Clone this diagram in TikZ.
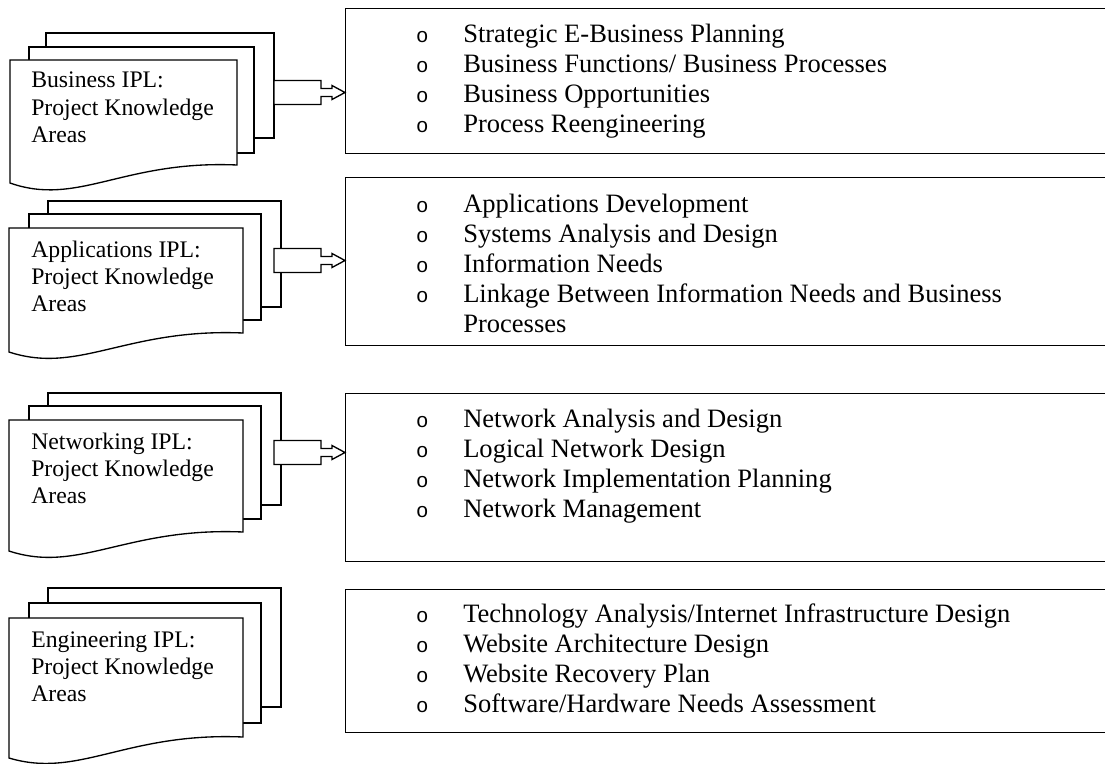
\documentclass[tikz,border=0pt]{standalone}
\usepackage{fontspec}
\setmainfont{Liberation Serif}
\newfontfamily\bulfont{Liberation Mono}
\usepackage{tikz}
\usetikzlibrary{calc,positioning}
\tikzstyle{sheet} = [draw, fill=white, line width=1pt]
\tikzstyle{areabox} = [rectangle, draw, fill=white, line width=1pt, anchor=north west, minimum width=581pt, inner sep=0pt]
\tikzstyle{doclabel} = [anchor=base west, inner sep=0pt, font=\fontsize{17.8}{20.6}\selectfont]
\tikzstyle{itemlist} = [anchor=base west, inner sep=0pt, font=\fontsize{19.9}{22.5}\selectfont]
\tikzstyle{fatarrow} = [draw, fill=white, line width=1pt, line join=miter]
\newcommand{\bul}{\llap{\makebox[12pt][c]{\bulfont\fontsize{15.5}{22.5}\selectfont o}\hspace{24.75pt}}}
% block arrow from tail #1 to tip #2
\newcommand{\blockarrow}[2]{%
  \draw[fatarrow] ($(#1)+(0,-12)$) -- ($(#2)+(-24,-12)$) -- ($(#2)+(-24,-4)$)
    -- ($(#2)+(-13,-4)$) -- ($(#2)+(-13,-7)$) -- (#2) -- ($(#2)+(-13,7)$)
    -- ($(#2)+(-13,4)$) -- ($(#2)+(-24,4)$) -- ($(#2)+(-24,12)$)
    -- ($(#1)+(0,12)$) -- cycle;}

\begin{document}
\begin{tikzpicture}[x=0.75pt, y=-0.75pt]
    \useasboundingbox (0,0) rectangle (1105,763);
    \clip (0,0) rectangle (1105,763);
    % document stacks
    \begin{scope}[shift={(0,33)}]
        \draw[sheet] (46,0) rectangle (274,105);
        \draw[sheet] (29,14) rectangle (254,120);
        \draw[sheet] (10,27) -- (237,27) -- (237,132) .. controls (123,127) and (78,174) .. (10,150) -- cycle;
        \node[doclabel] (bus-label) at (31,55) {\begin{tabular}[t]{@{}l@{}}Business IPL:\\Project Knowledge\\Areas\end{tabular}};
        \coordinate (bus-out) at (274,59.5);
    \end{scope}
    \begin{scope}[shift={(0,201)}]
        \draw[sheet] (48,0) rectangle (281,106);
        \draw[sheet] (29,13) rectangle (261,119);
        \draw[sheet] (9,27) -- (243,27) -- (243,132) .. controls (126,127) and (79,174) .. (9,151) -- cycle;
        \node[doclabel] (apps-label) at (31,56) {\begin{tabular}[t]{@{}l@{}}Applications IPL:\\Project Knowledge\\Areas\end{tabular}};
        \coordinate (apps-out) at (274,59.5);
    \end{scope}
    \begin{scope}[shift={(0,393)}]
        \draw[sheet] (48,0) rectangle (281,112);
        \draw[sheet] (29,13) rectangle (261,126);
        \draw[sheet] (9,27) -- (243,27) -- (243,139) .. controls (126,134) and (79,181) .. (9,158) -- cycle;
        \node[doclabel] (net-label) at (31,56) {\begin{tabular}[t]{@{}l@{}}Networking IPL:\\Project Knowledge\\Areas\end{tabular}};
        \coordinate (net-out) at (274,59.5);
    \end{scope}
    \begin{scope}[shift={(0,588)}]
        \draw[sheet] (48,0) rectangle (281,119);
        \draw[sheet] (29,15) rectangle (261,135);
        \draw[sheet] (9,30) -- (243,30) -- (243,149) .. controls (126,144) and (79,191) .. (9,170) -- cycle;
        \node[doclabel] (eng-label) at (31,59) {\begin{tabular}[t]{@{}l@{}}Engineering IPL:\\Project Knowledge\\Areas\end{tabular}};
    \end{scope}
    % knowledge area boxes
    \node[areabox, minimum height=108.75pt] (bus-box) at (345,8) {};
    \node[areabox, minimum height=126pt] (apps-box) at (345,177) {};
    \node[areabox, minimum height=126pt] (net-box) at (345,393) {};
    \node[areabox, minimum height=107.25pt] (eng-box) at (345,589) {};
    \node[itemlist] (bus-items) at ($(bus-box.north west)+(118,35)$) {\begin{tabular}[t]{@{}l@{}}
        \bul Strategic E-Business Planning\\
        \bul Business Functions/ Business Processes\\
        \bul Business Opportunities\\
        \bul Process Reengineering\end{tabular}};
    \node[itemlist] (apps-items) at ($(apps-box.north west)+(118,35)$) {\begin{tabular}[t]{@{}l@{}}
        \bul Applications Development\\
        \bul Systems Analysis and Design\\
        \bul Information Needs\\
        \bul Linkage Between Information Needs and Business\\
        Processes\end{tabular}};
    \node[itemlist] (net-items) at ($(net-box.north west)+(118,34)$) {\begin{tabular}[t]{@{}l@{}}
        \bul Network Analysis and Design\\
        \bul Logical Network Design\\
        \bul Network Implementation Planning\\
        \bul Network Management\end{tabular}};
    \node[itemlist] (eng-items) at ($(eng-box.north west)+(118,33)$) {\begin{tabular}[t]{@{}l@{}}
        \bul Technology Analysis/Internet Infrastructure Design\\
        \bul Website Architecture Design\\
        \bul Website Recovery Plan\\
        \bul Software/Hardware Needs Assessment\end{tabular}};
    % arrows
    \coordinate (bus-tip) at (bus-box.west |- bus-out);
    \coordinate (apps-tip) at (apps-box.west |- apps-out);
    \coordinate (net-tip) at (net-box.west |- net-out);
    \blockarrow{bus-out}{bus-tip}
    \blockarrow{apps-out}{apps-tip}
    \blockarrow{net-out}{net-tip}
\end{tikzpicture}
\end{document}
